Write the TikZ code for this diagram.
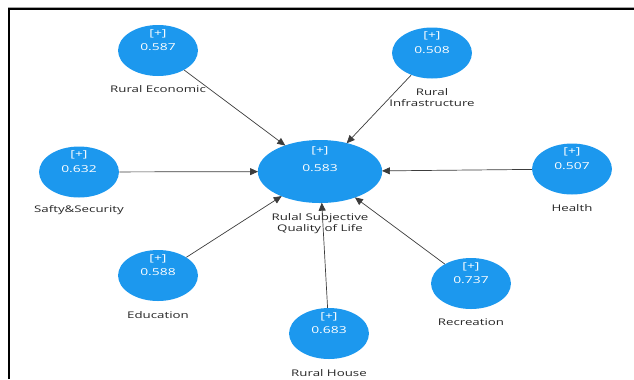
\documentclass[tikz,border=0pt]{standalone}
\usepackage{fontspec}
\setmainfont{Open Sans}
\usetikzlibrary{shapes.geometric,arrows.meta}
\definecolor{plsblue}{RGB}{28,152,238}
\definecolor{linkgray}{RGB}{60,60,60}
\tikzset{
  construct/.style={ellipse, fill=plsblue, draw=none, inner sep=0pt,
    minimum width=54bp, minimum height=51bp, xscale=1.48},
  hub/.style={construct, minimum width=84bp, minimum height=63bp},
  valtext/.style={text=white, inner sep=0pt, anchor=base, xscale=1.45,
    font=\fontsize{9.6}{10}\selectfont},
  caption/.style={text=black!85, inner sep=0pt, anchor=base, xscale=1.45,
    font=\fontsize{9.2}{10}\selectfont},
  link/.style={draw=linkgray, line width=0.7bp,
    -{Triangle[length=8bp,width=7bp]}, shorten >=-0.5bp},
}
\begin{document}
\begin{tikzpicture}[x=1bp,y=-1bp]
\useasboundingbox (0,0) rectangle (634,379);
% window frame (top and left edges)
\draw[gray!70, line width=1bp] (8,7.6) -- (634,7.6);
\draw[black, line width=2bp] (9,379) -- (9,9) -- (634,9);

% dependent construct
\node[hub] (q) at (320,171.5) {};
\node[valtext] (qa) at (320,153.5) {[+]};
\node[valtext] (qb) at (320,171.3) {0.583};
\node[caption] (qc) at (320,220.7) {Rulal Subjective};
\node[caption] (qd) at (320,231.2) {Quality of Life};

% outer constructs
\node[construct] (econ) at (158,50.5) {};
\node[valtext] (econa) at (158,36) {[+]};
\node[valtext] (econb) at (158,50.5) {0.587};
\node[caption] (econc) at (158,92.7) {Rural Economic};

\node[construct] (infra) at (432,53) {};
\node[valtext] (infraa) at (432,38.5) {[+]};
\node[valtext] (infrab) at (432,53) {0.508};
\node[caption] (infrac) at (432,95) {Rural};
\node[caption] (infrad) at (432,106) {Infrastructure};

\node[construct] (safe) at (79,172) {};
\node[valtext] (safea) at (79,157.5) {[+]};
\node[valtext] (safeb) at (79,172) {0.632};
\node[caption] (safec) at (79,212.5) {Safty\&Security};

\node[construct] (health) at (572,169) {};
\node[valtext] (healtha) at (572,154.5) {[+]};
\node[valtext] (healthb) at (572,169) {0.507};
\node[caption] (healthc) at (572,211.5) {Health};

\node[construct] (edu) at (158,275.5) {};
\node[valtext] (edua) at (158,261) {[+]};
\node[valtext] (edub) at (158,275.5) {0.588};
\node[caption] (educ) at (158,318) {Education};

\node[construct] (rec) at (471,283.5) {};
\node[valtext] (reca) at (471,269) {[+]};
\node[valtext] (recb) at (471,283.5) {0.737};
\node[caption] (recc) at (471,325.7) {Recreation};

\node[construct] (house) at (329,333.5) {};
\node[valtext] (housea) at (329,319) {[+]};
\node[valtext] (houseb) at (329,333.5) {0.683};
\node[caption] (housec) at (329,376) {Rural House};

% paths into the dependent construct
\draw[link] (econ) -- (q);
\draw[link] (infra) -- (q);
\draw[link] (safe) -- (q);
\draw[link] (health) -- (q);
\draw[link] (edu) -- (q);
\draw[link] (rec) -- (q);
\draw[link] (house) -- (q);
\end{tikzpicture}
\end{document}
